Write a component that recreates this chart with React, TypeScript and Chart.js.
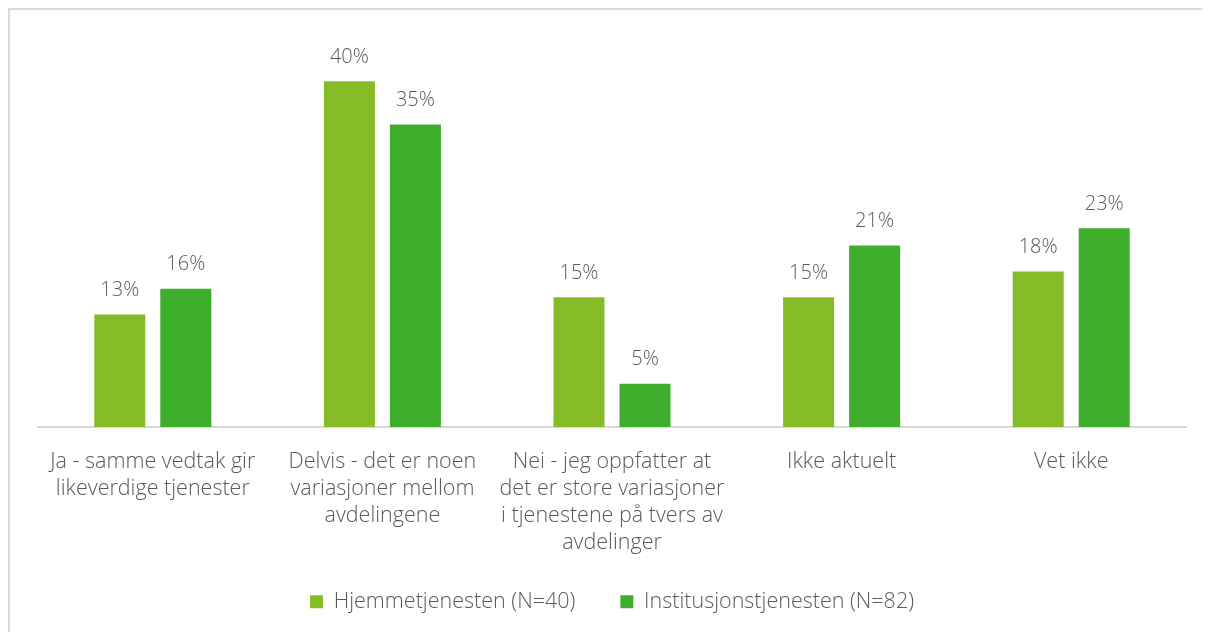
import React, { useEffect, useRef } from "react";
import { Chart, registerables } from "chart.js";

Chart.register(...registerables);

const categories: string[][] = [
  ["Ja - samme vedtak gir", "likeverdige tjenester"],
  ["Delvis - det er noen", "variasjoner mellom", "avdelingene"],
  ["Nei - jeg oppfatter at", "det er store variasjoner", "i tjenestene på tvers av", "avdelinger"],
  ["Ikke aktuelt"],
  ["Vet ikke"],
];
const hjemmeValues = [13, 40, 15, 15, 18];
const institusjonValues = [16, 35, 5, 21, 23];
const seriesNames = ["Hjemmetjenesten (N=40)", "Institusjonstjenesten (N=82)"];

const FONT = "'Open Sans', sans-serif";
const TEXT = "#595959";

const valueLabels = {
  id: "valueLabels",
  afterDatasetsDraw(chart: any) {
    const ctx = chart.ctx;
    ctx.save();
    ctx.font = `300 20px ${FONT}`;
    ctx.fillStyle = TEXT;
    ctx.textAlign = "center";
    ctx.textBaseline = "middle";
    chart.data.datasets.forEach((ds: any, i: number) => {
      const meta = chart.getDatasetMeta(i);
      meta.data.forEach((bar: any, j: number) => {
        ctx.fillText(`${ds.data[j]}%`, bar.x, bar.y - 24);
      });
    });
    ctx.restore();
  },
};

// keep the wide horizontal legend spacing but a compact legend height
const legendHeight = {
  id: "legendHeight",
  beforeLayout(chart: any) {
    const lg = chart.legend;
    if (lg && !lg.__patched) {
      const orig = lg.fit.bind(lg);
      lg.fit = function () {
        orig();
        this.height = 86;
      };
      lg.__patched = true;
    }
  },
};

export default function App() {
  const ref = useRef<HTMLCanvasElement>(null);
  useEffect(() => {
    if (!ref.current) return;
    const chart = new Chart(ref.current, {
      type: "bar",
      data: {
        labels: categories,
        datasets: [
          {
            label: seriesNames[0],
            data: hjemmeValues,
            backgroundColor: "#86bc27",
            categoryPercentage: 0.575,
            barPercentage: 0.773,
          },
          {
            label: seriesNames[1],
            data: institusjonValues,
            backgroundColor: "#40ae2d",
            categoryPercentage: 0.575,
            barPercentage: 0.773,
          },
        ],
      },
      options: {
        animation: false,
        responsive: true,
        maintainAspectRatio: false,
        layout: { padding: { left: 28, right: 24, top: 28, bottom: 0 } },
        scales: {
          x: {
            grid: { display: false },
            border: { display: true, color: "#d9d9d9", width: 2 },
            ticks: {
              color: TEXT,
              font: { family: FONT, size: 21.5, weight: "300", lineHeight: 1.256 },
              padding: 13,
              maxRotation: 0,
              autoSkip: false,
            },
            afterFit(scale: any) {
              scale.height = 119;
              scale._computeLabelArea = () => undefined;
            },
          },
          y: {
            display: false,
            min: 0,
            max: 45,
          },
        },
        plugins: {
          legend: {
            position: "bottom",
            labels: {
              color: TEXT,
              font: { family: FONT, size: 21.5, weight: "300" },
              boxWidth: 13,
              boxHeight: 13,
              padding: 45,
            },
          },
          tooltip: { enabled: false },
        },
      },
      plugins: [valueLabels, legendHeight],
    });
    return () => chart.destroy();
  }, []);
  return (
    <div
      style={{
        position: "relative",
        width: 1202,
        height: 624,
        borderTop: "2px solid #d9d9d9",
        borderLeft: "2px solid #d9d9d9",
        boxSizing: "border-box",
        background: "#fff",
      }}
    >
      <canvas ref={ref} />
    </div>
  );
}
